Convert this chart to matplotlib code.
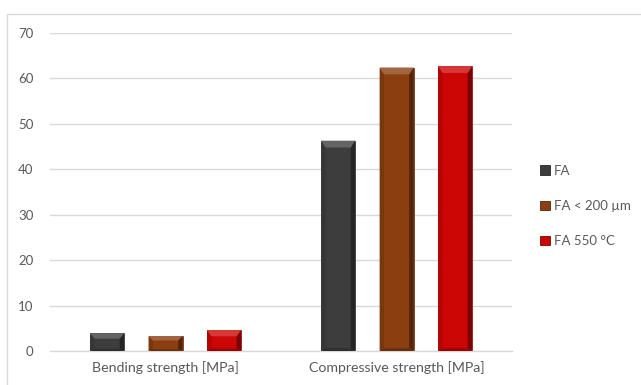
import matplotlib

matplotlib.use("Agg")
import matplotlib.pyplot as plt
import numpy as np
from matplotlib.patches import Patch, Polygon, Rectangle

categories = ["Bending strength [MPa]", "Compressive strength [MPa]"]
series_names = ["FA", "FA < 200 µm", "FA 550 °C"]
fa = [3.9, 46.3]
fa_fine = [3.3, 62.4]
fa_550 = [4.6, 62.7]
colors = ["#3d3d3d", "#8b3e10", "#cc0505"]

plt.rcParams["font.family"] = ["Lato", "DejaVu Sans"]
TEXT = "#595959"
GRID = "#d9d9d9"

fig = plt.figure(figsize=(6.41, 3.85), dpi=100)
ax = fig.add_axes([0.078, 0.0883, 0.721, 0.826])

# light chart-area border
fig.patches.append(Rectangle((7 / 641, -0.01), 1.0, 1 - 14 / 385 + 0.01,
                             transform=fig.transFigure, fill=False,
                             edgecolor="#d9d9d9", linewidth=1.0))

x = np.arange(len(categories))
width = 0.147
step = 0.253


def shade(color, k):
    c = np.array(matplotlib.colors.to_rgb(color))
    if k >= 0:
        c = c + (1 - c) * k
    else:
        c = c * (1 + k)
    return np.clip(c, 0, 1)


def bevel(ax, rect, color):
    # bevel facets: lighter top, darker right side, slightly darker left/bottom
    x0 = rect.get_x()
    w = rect.get_width()
    h = rect.get_height()
    bw = w * 0.13
    bh = min(1.5, h * 0.3)
    bb = min(0.6, h * 0.12)
    top = [(x0, h), (x0 + w, h), (x0 + w - bw, h - bh), (x0 + bw, h - bh)]
    right = [(x0 + w, h), (x0 + w, 0), (x0 + w - bw, bb), (x0 + w - bw, h - bh)]
    left = [(x0, h), (x0 + bw, h - bh), (x0 + bw, bb), (x0, 0)]
    bottom = [(x0, 0), (x0 + w, 0), (x0 + w - bw, bb), (x0 + bw, bb)]
    for pts, k in [(left, -0.12), (right, -0.4), (bottom, -0.25), (top, 0.2)]:
        ax.add_patch(Polygon(pts, closed=True, facecolor=shade(color, k),
                             edgecolor="none", zorder=3, transform=ax.transData))


for i, (vals, col) in enumerate(zip([fa, fa_fine, fa_550], colors)):
    bars = ax.bar(x + (i - 1) * step, vals, width, color=col, zorder=2,
                  edgecolor=shade(col, -0.3), linewidth=0.5)
    for b in bars:
        bevel(ax, b, col)

ax.set_xlim(-0.5, 1.5)
ax.set_ylim(0, 70)
ax.set_yticks(range(0, 71, 10))
ax.set_xticks(x)
ax.set_xticklabels(categories)
ax.yaxis.grid(True, color=GRID, linewidth=1.0, zorder=0)
ax.set_axisbelow(True)
for s in ["top", "right", "left"]:
    ax.spines[s].set_visible(False)
ax.spines["bottom"].set_color(GRID)
ax.spines["bottom"].set_linewidth(1.0)
ax.tick_params(axis="both", length=0, colors=TEXT, labelsize=9.5)
ax.tick_params(axis="x", labelsize=10.2, pad=7)
ax.tick_params(axis="y", pad=12)

handles = [Patch(facecolor=c, edgecolor=shade(c, -0.4), linewidth=0.6) for c in colors]
fig.legend(handles, series_names, loc="center left", bbox_to_anchor=(0.832, 0.465),
           frameon=False, fontsize=9.5, labelcolor=TEXT, handlelength=0.75,
           handleheight=0.75, handletextpad=0.3, labelspacing=1.75, borderpad=0)

fig.savefig("out.png", dpi=100, facecolor="white")
